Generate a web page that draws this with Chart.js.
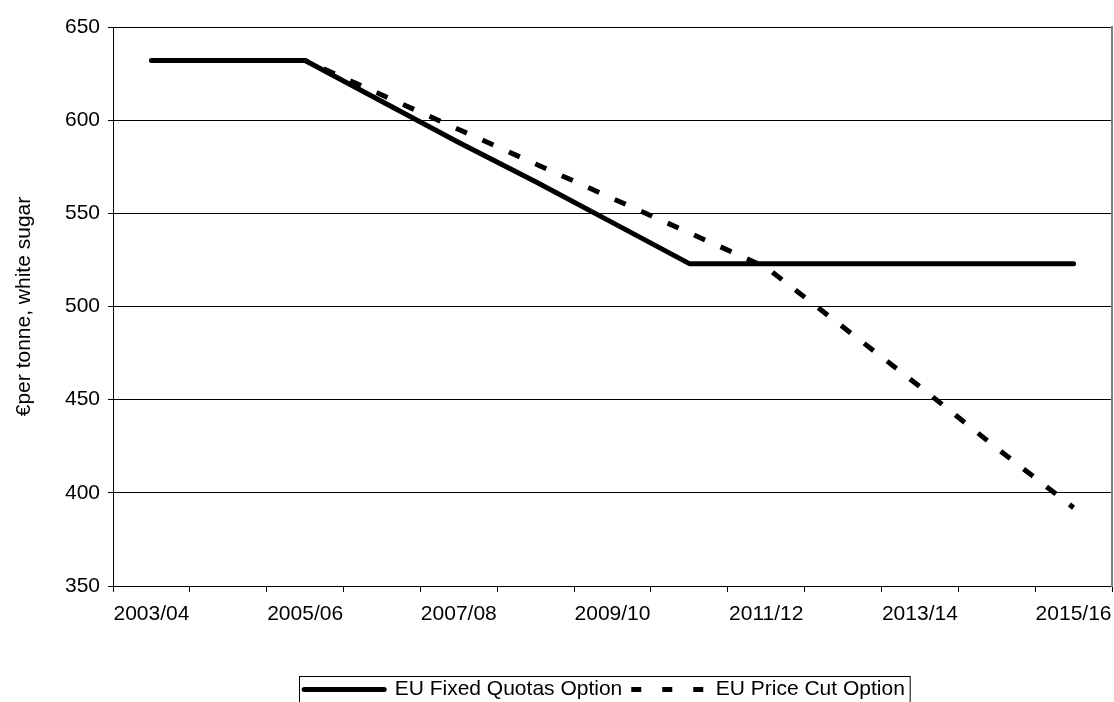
<!DOCTYPE html>
<html>
<head>
<meta charset="utf-8">
<script src="https://cdn.jsdelivr.net/npm/chart.js@4/dist/chart.umd.min.js"></script>
<style>
  html, body { margin: 0; padding: 0; background: #fff; }
  #wrap { width: 1114px; height: 702px; position: relative; }
</style>
</head>
<body>
<div id="wrap"><canvas id="chart"></canvas></div>
<script>
// marketing years on the category axis
const years = ['2003/04', '2004/05', '2005/06', '2006/07', '2007/08', '2008/09', '2009/10',
  '2010/11', '2011/12', '2012/13', '2013/14', '2014/15', '2015/16'];

// € per tonne, white sugar
const fixedQuotas = [632, 632, 632, 610, 588, 567, 545, 523, 523, 523, 523, 523, 523];
const priceCut = [632, 632, 632, 613.5, 595, 576.5, 558, 539.5, 521, 489, 457, 424, 392];

const seriesNames = ['EU Fixed Quotas Option', 'EU Price Cut Option'];

Chart.defaults.font.family = '"Liberation Sans", Arial, sans-serif';
Chart.defaults.font.size = 21;
Chart.defaults.color = '#000';

// legend sits a little left of the plot centre, with a thin frame round it
const legendFrame = {
  id: 'legendFrame',
  afterLayout(chart) {
    const lg = chart.legend;
    if (!lg) return;
    lg.left -= 8;
    lg.right -= 8;
  },
  afterDraw(chart) {
    const lg = chart.legend;
    if (!lg || !lg.legendHitBoxes || !lg.legendHitBoxes.length) return;
    const boxes = lg.legendHitBoxes;
    const left = Math.min(...boxes.map(b => b.left)) - 5;
    const right = Math.max(...boxes.map(b => b.left + b.width)) + 5;
    const top = Math.min(...boxes.map(b => b.top)) - 3;
    const ctx = chart.ctx;
    ctx.save();
    ctx.strokeStyle = '#000';
    ctx.lineWidth = 1;
    ctx.strokeRect(Math.round(left) + 0.5, Math.round(top) + 0.5, right - left, chart.height);
    ctx.restore();
  }
};

new Chart(document.getElementById('chart'), {
  type: 'line',
  data: {
    labels: years,
    datasets: [
      {
        label: seriesNames[0],
        data: fixedQuotas,
        borderColor: '#000',
        backgroundColor: '#000',
        borderWidth: 5,
        borderCapStyle: 'round',
        borderJoinStyle: 'round',
        pointRadius: 0,
        tension: 0
      },
      {
        label: seriesNames[1],
        data: priceCut,
        borderColor: '#000',
        backgroundColor: '#000',
        borderWidth: 5,
        borderDash: [12, 17],
        borderCapStyle: 'butt',
        pointRadius: 0,
        tension: 0
      }
    ]
  },
  options: {
    responsive: true,
    maintainAspectRatio: false,
    animation: false,
    layout: { padding: { top: 27, right: 2, bottom: -8, left: 0 } },
    scales: {
      x: {
        type: 'category',
        offset: true,
        grid: { offset: true, drawOnChartArea: false, color: '#000', tickLength: 6 },
        border: { color: '#000', width: 1 },
        ticks: {
          autoSkip: false,
          maxRotation: 0,
          padding: 10,
          callback: (v, i) => (i % 2 === 0 ? years[i] : '')
        },
        afterFit: s => {
          s.height = 90;
          s.paddingLeft = 0;
          s.paddingRight = 0;
        }
      },
      y: {
        min: 350,
        max: 650,
        grid: { color: '#000', lineWidth: 1, tickLength: 5 },
        border: { color: '#000', width: 1 },
        ticks: { stepSize: 50, padding: 8 },
        title: {
          display: true,
          text: '€per tonne, white sugar',
          padding: { top: 12, bottom: 0 }
        },
        afterFit: s => { s.width = 113; }
      },
      y2: {
        position: 'right',
        min: 350,
        max: 650,
        grid: { display: false },
        ticks: { display: false },
        border: { display: true, color: '#808080', width: 2 },
        afterFit: s => { s.width = 0; }
      }
    },
    plugins: {
      tooltip: { enabled: false },
      legend: {
        position: 'bottom',
        fullSize: false,
        labels: {
          usePointStyle: true,
          pointStyle: 'line',
          pointStyleWidth: 80,
          padding: 3,
          generateLabels(chart) {
            const items = Chart.defaults.plugins.legend.labels.generateLabels(chart);
            items.forEach((it, i) => {
              it.lineWidth = 5;
              it.fontColor = '#000';
              if (i === 1) {
                it.lineDash = [10, 21];
                it.lineDashOffset = -6;
                it.lineCap = 'butt';
              } else {
                it.lineCap = 'round';
              }
            });
            return items;
          }
        }
      }
    }
  },
  plugins: [legendFrame]
});
</script>
</body>
</html>
